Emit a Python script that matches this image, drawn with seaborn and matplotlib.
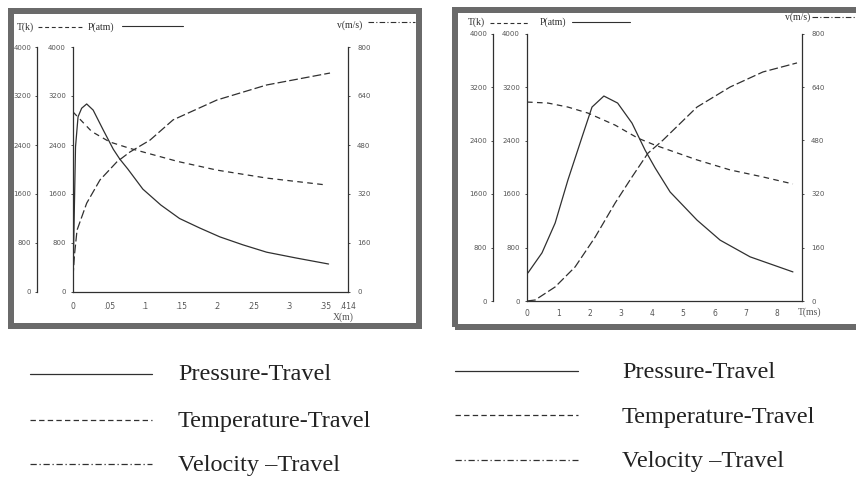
import matplotlib
matplotlib.use("Agg")
import matplotlib.pyplot as plt
import seaborn as sns
from matplotlib.lines import Line2D
from matplotlib.patches import Rectangle

# ---------------- data ----------------
# Left panel: quantities against travel X (m)
travel_p = [0, 0.0035, 0.007, 0.012, 0.019, 0.028, 0.042, 0.056, 0.065, 0.076,
            0.097, 0.122, 0.148, 0.176, 0.204, 0.236, 0.269, 0.31, 0.355]
pressure_travel = [200, 2370, 2860, 3000, 3070, 2970, 2645, 2330, 2170, 2010,
                   1680, 1420, 1200, 1045, 900, 770, 650, 555, 457]
travel_t = [0, 0.026, 0.051, 0.079, 0.121, 0.146, 0.2, 0.269, 0.35]
temperature_travel = [2940, 2620, 2450, 2345, 2210, 2130, 1990, 1860, 1750]
travel_v = [0, 0.002, 0.0056, 0.019, 0.0375, 0.061, 0.079, 0.107, 0.139,
            0.2, 0.269, 0.357]
velocity_travel = [49, 120, 202, 290, 366, 425, 457, 496, 562, 627, 676, 715]

# Right panel: quantities against time T (ms)
time_p = [0.03, 0.48, 0.9, 1.31, 1.76, 2.08, 2.46, 2.9, 3.36, 3.78, 4.1,
          4.58, 5.44, 6.18, 7.14, 8.51]
pressure_time = [420, 720, 1165, 1810, 2450, 2900, 3065, 2960, 2660, 2255,
                 1990, 1630, 1210, 910, 660, 435]
time_t = [0, 0.67, 1.31, 1.95, 2.82, 3.55, 4.1, 5.44, 6.5, 7.55, 8.51]
temperature_time = [2975, 2960, 2900, 2810, 2630, 2435, 2330, 2110, 1960,
                    1855, 1750]
time_v = [0, 0.26, 0.9, 1.54, 2.18, 2.82, 3.36, 3.87, 4.35, 5.44, 6.5, 7.55,
          8.64]
velocity_time = [0, 3, 42, 102, 191, 293, 371, 442, 481, 580, 640, 685, 712]

# axis ticks / labels
tp_ticks = [0, 800, 1600, 2400, 3200, 4000]
tp_ticklabels = ["0", "800", "1600", "2400", "3200", "4000"]
v_ticks = [0, 160, 320, 480, 640, 800]
v_ticklabels = ["0", "160", "320", "480", "640", "800"]
x_ticks_left = [0, 0.05, 0.1, 0.15, 0.2, 0.25, 0.3, 0.35, 0.382]
x_ticklabels_left = ["0", ".05", ".1", ".15", ".2", ".25", ".3", ".35", ".414"]
x_ticks_right = [0, 1, 2, 3, 4, 5, 6, 7, 8]
x_ticklabels_right = ["0", "1", "2", "3", "4", "5", "6", "7", "8"]
legend_labels = ["Pressure-Travel", "Temperature-Travel", "Velocity \u2013Travel"]

# ---------------- styling ----------------
sns.set_theme(style="white")
plt.rcParams["font.family"] = ["DejaVu Sans"]

W, H = 856, 480
INK = "#303030"
TICK = "#555555"
FRAME = "#6a6a6a"
LW = 0.9
DASH_T = (0, (4.5, 3.5))

fig = plt.figure(figsize=(W / 100, H / 100), dpi=100)
fig.patch.set_facecolor("white")


def rect(l, t, r, b):
    return [l / W, 1 - b / H, (r - l) / W, (b - t) / H]


def fx(x):
    return x / W


def fy(y):
    return 1 - y / H


def panel(box, xmax, xticks, xticklabels, t_off_px, xpad, xlabel, xlabel_xy,
          xp, p, xt, t, xv, v):
    l, t_, r, b = box
    ax = fig.add_axes(rect(l, t_, r, b))
    ax.set_facecolor("none")
    axT = ax.twinx()
    axV = ax.twinx()
    for a in (ax, axT, axV):
        for s in a.spines.values():
            s.set_visible(False)
            s.set_color(INK)
            s.set_linewidth(0.9)
        a.set_xlim(0, xmax)
    ax.set_ylim(0, 4000)
    axT.set_ylim(0, 4000)
    axV.set_ylim(0, 800)

    sns.lineplot(x=xp, y=p, ax=ax, color=INK, lw=LW, linestyle="-")
    sns.lineplot(x=xt, y=t, ax=axT, color=INK, lw=LW, linestyle=DASH_T)
    sns.lineplot(x=xv, y=v, ax=axV, color=INK, lw=LW, linestyle=(0, (7, 2.5)))
    for a in (ax, axT, axV):
        a.set_xlabel("")
        a.set_ylabel("")

    # P axis (main left) + x axis
    ax.spines["left"].set_visible(True)
    ax.spines["bottom"].set_visible(True)
    ax.set_yticks(tp_ticks)
    ax.set_yticklabels(tp_ticklabels)
    ax.set_xticks(xticks)
    ax.set_xticklabels(xticklabels)
    ax.tick_params(axis="y", length=1.5, width=0.6, pad=3.5, labelsize=5,
                   labelcolor=TICK, color=INK, left=True)
    ax.tick_params(axis="x", length=0, pad=xpad, labelsize=5.5,
                   labelcolor=TICK, bottom=True)
    ax.set_xlabel(xlabel, fontsize=7, color=TICK, family="Liberation Serif")
    ax.xaxis.set_label_coords(*xlabel_xy)

    # T axis (offset left)
    axT.spines["left"].set_visible(True)
    axT.spines["left"].set_position(("outward", t_off_px * 0.72))
    axT.yaxis.set_ticks_position("left")
    axT.yaxis.set_label_position("left")
    axT.set_yticks(tp_ticks)
    axT.set_yticklabels(tp_ticklabels)
    axT.tick_params(axis="y", length=1.5, width=0.6, pad=2.5, labelsize=5,
                    labelcolor=TICK, color=INK, left=True, right=False,
                    labelleft=True, labelright=False)
    axT.tick_params(axis="x", bottom=False, labelbottom=False)

    # v axis (right)
    axV.spines["right"].set_visible(True)
    axV.set_yticks(v_ticks)
    axV.set_yticklabels(v_ticklabels)
    axV.tick_params(axis="y", length=1.5, width=0.6, pad=5, labelsize=5,
                    labelcolor=TICK, color=INK, right=True)
    axV.tick_params(axis="x", bottom=False, labelbottom=False)
    for a in (ax, axT, axV):
        leg = a.get_legend()
        if leg:
            leg.remove()
    return ax


# Left panel
panel((73, 47, 348, 292), 0.382, x_ticks_left, x_ticklabels_left, 36, 7,
      "X(m)", ((343 - 73) / 275, -(312 - 292) / 245),
      travel_p, pressure_travel, travel_t, temperature_travel,
      travel_v, velocity_travel)

# Right panel
panel((527, 33.5, 802, 301), 8.8, x_ticks_right, x_ticklabels_right, 34, 5.5,
      "T(ms)", ((810 - 527) / 275, -(307 - 301) / 267.5),
      time_p, pressure_time, time_t, temperature_time,
      time_v, velocity_time)

# ---------------- frames ----------------
fr_lw = 6 * 0.72
fig.add_artist(Rectangle((fx(11), fy(326)), fx(419) - fx(11), fy(11) - fy(326),
                         transform=fig.transFigure, fill=False,
                         edgecolor=FRAME, lw=fr_lw))
fig.add_artist(Rectangle((fx(455), fy(327)), fx(900) - fx(455), fy(10) - fy(327),
                         transform=fig.transFigure, fill=False,
                         edgecolor=FRAME, lw=fr_lw))


def hline(x0, x1, y, ls, lw=0.9):
    fig.add_artist(Line2D([fx(x0), fx(x1)], [fy(y), fy(y)],
                          transform=fig.transFigure, color=INK, lw=lw,
                          linestyle=ls))


def label(x, y, s, size=7, ha="left"):
    fig.text(fx(x), fy(y), s, ha=ha, va="center", fontsize=size, color=INK,
             family="Liberation Serif")


# in-panel key, left
label(17, 27, "T(k)")
hline(38, 82, 27, (0, (3.5, 2.5)), 0.8)
label(88, 27, "P(atm)")
hline(122, 183, 26, "-", 0.8)
label(337, 25, "v(m/s)")
hline(368, 415, 22, (0, (5, 2, 1, 2)), 0.8)

# in-panel key, right
label(468, 22, "T(k)")
hline(490, 530, 23, (0, (3.5, 2.5)), 0.8)
label(540, 22, "P(atm)")
hline(572, 630, 22, "-", 0.8)
label(785, 17, "v(m/s)")
hline(812, 856, 17, (0, (5, 2, 1, 2)), 0.8)

# ---------------- bottom legends ----------------
styles = ["-", (0, (4.3, 2.6)), (0, (5, 2.2, 1, 2.2))]
left_rows = [374, 420, 464]
right_rows = [372, 416, 461]
for s, yl, yr, txt in zip(styles, left_rows, right_rows, legend_labels):
    hline(30, 152, yl, s, 0.9)
    hline(455, 578, yr - 1, s, 0.9)
    fig.text(fx(178), fy(yl + 1), txt, ha="left", va="center", fontsize=17.5,
             color="#222222", family="Liberation Serif")
    fig.text(fx(622), fy(yr + 1), txt, ha="left", va="center", fontsize=17.5,
             color="#222222", family="Liberation Serif")

fig.savefig("out.png", dpi=100, facecolor="white")
